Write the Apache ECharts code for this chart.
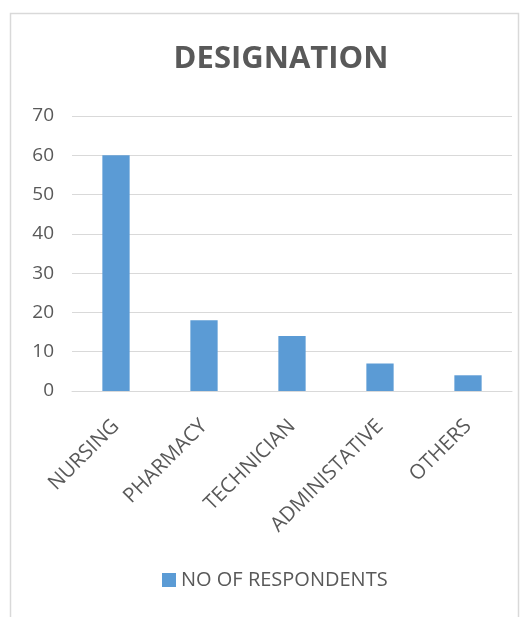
<!DOCTYPE html>
<html>
<head>
<meta charset="utf-8">
<script src="https://cdn.jsdelivr.net/npm/echarts@6/dist/echarts.min.js"></script>
<style>
  html, body { margin: 0; padding: 0; background: #fff; }
  #chart { width: 530px; height: 617px; }
</style>
</head>
<body>
<div id="chart"></div>
<script>
// Respondents by designation
const categories = ['NURSING', 'PHARMACY', 'TECHNICIAN', 'ADMINISTATIVE', 'OTHERS'];
const respondents = [60, 18, 14, 7, 4];
const seriesName = 'NO OF RESPONDENTS';
const chartTitle = 'DESIGNATION';

const textColor = '#595959';
const fontFamily = '"Open Sans", Lato, sans-serif';

const chart = echarts.init(document.getElementById('chart'), null, { renderer: 'canvas' });
chart.setOption({
  backgroundColor: '#fff',
  animation: false,
  graphic: [{
    type: 'rect',
    shape: { x: 10.5, y: 13.5, width: 508, height: 640 },
    style: { fill: 'none', stroke: '#d9d9d9', lineWidth: 1.5 },
    silent: true
  }],
  title: {
    text: chartTitle,
    left: 276,
    textAlign: 'center',
    top: 39,
    textStyle: { color: textColor, fontSize: 31, fontWeight: 'bold', fontFamily: fontFamily }
  },
  legend: {
    bottom: 22,
    left: 157,
    itemWidth: 14,
    itemHeight: 14,
    itemGap: 10,
    icon: 'rect',
    textStyle: { color: textColor, fontSize: 20, fontFamily: fontFamily },
    data: [seriesName]
  },
  grid: { left: 72, right: 18, top: 116, bottom: 226, containLabel: false },
  xAxis: {
    type: 'category',
    data: categories,
    axisLine: { lineStyle: { color: '#d9d9d9', width: 1 } },
    axisTick: { show: false },
    axisLabel: {
      rotate: 45,
      interval: 0,
      margin: 32,
      color: textColor,
      fontSize: 20.5,
      fontFamily: fontFamily
    }
  },
  yAxis: {
    type: 'value',
    min: 0,
    max: 70,
    interval: 10,
    axisLine: { show: false },
    axisTick: { show: false },
    splitLine: { lineStyle: { color: '#d9d9d9', width: 1 } },
    axisLabel: { color: textColor, fontSize: 19, fontFamily: fontFamily, margin: 18 }
  },
  series: [{
    name: seriesName,
    type: 'bar',
    data: respondents,
    barWidth: '31%',
    itemStyle: { color: '#5B9BD5' }
  }]
});
</script>
</body>
</html>
